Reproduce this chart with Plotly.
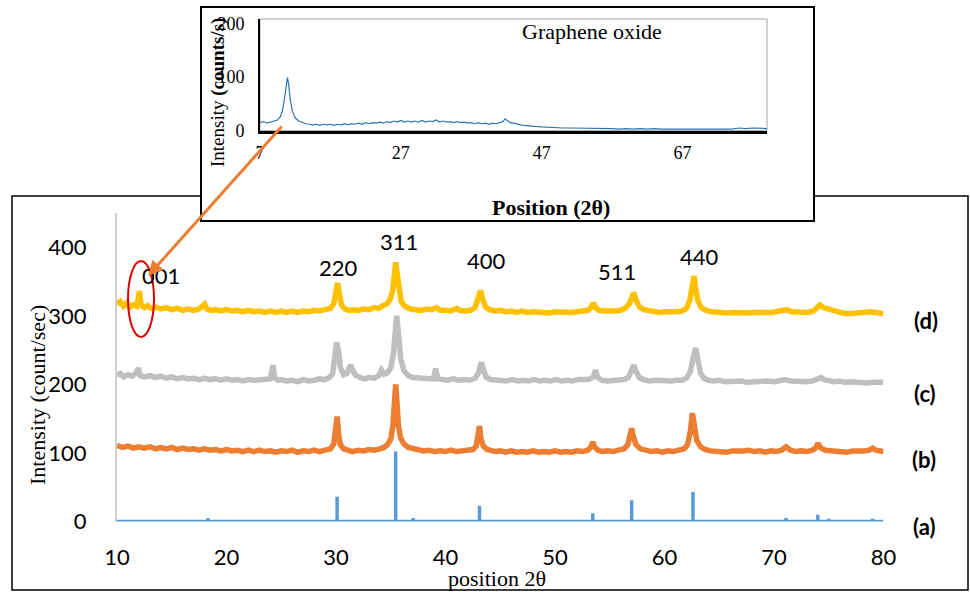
import plotly.graph_objects as go

# ---------------- data ----------------
# (a) reference stick pattern: 2-theta positions and intensities
STICK_POS = [18.3, 23.3, 30.1, 35.45, 37.05, 43.1, 47.1, 53.45, 57.0, 62.6,
             65.8, 66.9, 71.1, 74.0, 75.0, 79.0]
STICK_INT = [5, 1.5, 36, 102, 5, 23, 1.5, 12, 31, 43, 2, 1.5, 5, 10, 4, 4]

# (b) orange pattern  (2theta, intensity as plotted)
CURVE_B = [(10, 111), (10.5, 108), (11, 110), (11.5, 107), (12, 109), (12.5, 107), (13, 109), (13.5, 106),
           (14, 108), (14.5, 106), (15, 108), (15.5, 105), (16, 107), (16.5, 105), (17, 106), (17.5, 104),
           (18, 106), (18.5, 104), (19, 105), (19.5, 103), (20, 105), (20.5, 103), (21, 104), (21.5, 102),
           (22, 104), (22.5, 102), (23, 104), (23.5, 102), (24, 103), (24.5, 101), (25, 103), (25.5, 102),
           (26, 104), (26.5, 101), (27, 103), (27.5, 102), (28, 104), (28.5, 102), (29, 104), (29.5, 106),
           (29.8, 113), (29.95, 128), (30.1, 153), (30.25, 126), (30.4, 112), (30.7, 106), (31, 104),
           (31.5, 102), (32, 104), (32.5, 103), (33, 105), (33.5, 104), (34, 106), (34.4, 108), (34.7, 112),
           (35.0, 120), (35.2, 140), (35.35, 180), (35.45, 200), (35.55, 178), (35.7, 140), (35.9, 122),
           (36.2, 113), (36.6, 108), (37.0, 106), (37.5, 104), (38, 103), (38.5, 104), (39, 102), (39.5, 103),
           (40, 102), (40.5, 104), (41, 102), (41.5, 103), (42, 103), (42.5, 105), (42.8, 110), (42.95, 122),
           (43.1, 139), (43.25, 120), (43.45, 110), (43.8, 105), (44.2, 103), (44.6, 102), (45, 103),
           (45.5, 101), (46, 103), (46.5, 101), (47, 102), (47.5, 101), (48, 103), (48.5, 101), (49, 102),
           (49.5, 101), (50, 103), (50.5, 101), (51, 102), (51.5, 101), (52, 103), (52.5, 102), (53, 104),
           (53.3, 109), (53.45, 116), (53.6, 109), (53.9, 104), (54.3, 102), (54.8, 103), (55.3, 102),
           (55.8, 104), (56.3, 106), (56.65, 112), (56.85, 124), (57.0, 136), (57.15, 124), (57.4, 112),
           (57.8, 106), (58.3, 104), (58.8, 102), (59.3, 103), (59.8, 101), (60.3, 103), (60.8, 102),
           (61.3, 104), (61.8, 106), (62.1, 112), (62.35, 130), (62.55, 158), (62.75, 138), (62.95, 118),
           (63.3, 109), (63.7, 105), (64.2, 103), (64.7, 102), (65.2, 103), (65.7, 101), (66.2, 103),
           (66.7, 102), (67.2, 103), (67.7, 104), (68.2, 102), (68.7, 103), (69.2, 101), (69.7, 103),
           (70.2, 102), (70.7, 104), (71.1, 109), (71.5, 104), (72, 102), (72.5, 103), (73, 102), (73.5, 104),
           (73.8, 107), (74.0, 114), (74.3, 107), (74.7, 104), (75.2, 103), (75.7, 102), (76.2, 103),
           (76.7, 101), (77.2, 103), (77.7, 102), (78.2, 103), (78.7, 104), (79.0, 107), (79.3, 104),
           (79.7, 102), (80, 102)]

# (c) grey pattern
CURVE_C = [(10, 213), (10.3, 216), (10.6, 211), (11, 214), (11.4, 212), (11.8, 218), (11.95, 224), (12.1, 213),
           (12.5, 211), (13, 213), (13.5, 210), (14, 212), (14.5, 209), (15, 211), (15.5, 208), (16, 210),
           (16.5, 208), (17, 209), (17.5, 207), (18, 209), (18.5, 207), (19, 208), (19.5, 206), (20, 208),
           (20.5, 206), (21, 207), (21.5, 205), (22, 207), (22.5, 206), (23, 207), (23.5, 206), (24, 208),
           (24.15, 220), (24.25, 228), (24.4, 209), (24.7, 206), (25, 207), (25.5, 205), (26, 206), (26.5, 204),
           (27, 207), (27.5, 205), (28, 206), (28.5, 208), (29, 207), (29.4, 210), (29.7, 216), (29.9, 240),
           (30.05, 261), (30.2, 252), (30.4, 225), (30.7, 214), (31.0, 216), (31.2, 224), (31.35, 228),
           (31.55, 220), (31.8, 213), (32.2, 210), (32.6, 208), (33, 210), (33.5, 209), (33.9, 213),
           (34.15, 221), (34.4, 215), (34.7, 217), (35.0, 224), (35.25, 245), (35.45, 285), (35.55, 300),
           (35.7, 275), (35.9, 238), (36.2, 220), (36.6, 213), (37, 210), (37.5, 209), (38, 208), (38.5, 207),
           (38.9, 208), (39.1, 223), (39.3, 208), (39.7, 207), (40.2, 206), (40.7, 208), (41.2, 206),
           (41.7, 207), (42.2, 206), (42.7, 209), (43.0, 216), (43.2, 228), (43.3, 232), (43.45, 222),
           (43.7, 211), (44.1, 207), (44.6, 206), (45.1, 207), (45.6, 205), (46.1, 207), (46.6, 205),
           (47.1, 206), (47.6, 205), (48.1, 207), (48.6, 205), (49.1, 206), (49.6, 205), (50.1, 207),
           (50.6, 205), (51.1, 206), (51.6, 205), (52.1, 207), (52.6, 206), (53.1, 207), (53.5, 211),
           (53.7, 221), (53.9, 210), (54.3, 206), (54.8, 205), (55.3, 206), (55.8, 205), (56.3, 207),
           (56.7, 210), (57.0, 220), (57.2, 228), (57.4, 219), (57.7, 210), (58.1, 207), (58.6, 205),
           (59.1, 206), (59.6, 205), (60.1, 206), (60.6, 205), (61.1, 206), (61.6, 206), (62.0, 209),
           (62.35, 218), (62.6, 238), (62.85, 253), (63.05, 236), (63.3, 216), (63.6, 209), (64.0, 206),
           (64.5, 205), (65, 206), (65.5, 204), (66, 205), (66.5, 204), (67, 205), (67.5, 203), (68, 204),
           (68.5, 203), (69, 204), (69.5, 205), (70, 204), (70.5, 205), (71, 207), (71.5, 205), (72, 204),
           (72.5, 205), (73, 204), (73.5, 205), (74, 207), (74.3, 210), (74.6, 207), (75, 206), (75.5, 204),
           (76, 205), (76.5, 203), (77, 204), (77.5, 203), (78, 204), (78.5, 202), (79, 203), (79.5, 202),
           (80, 203)]

# (d) yellow pattern
CURVE_D = [(10, 317), (10.3, 321), (10.6, 314), (10.9, 319), (11.2, 313), (11.5, 316), (11.8, 314), (11.95, 330),
           (12.05, 336), (12.2, 316), (12.5, 312), (12.8, 315), (13.1, 311), (13.5, 313), (14, 310), (14.5, 312),
           (15, 309), (15.5, 311), (16, 308), (16.5, 310), (17, 308), (17.5, 310), (17.8, 314), (18.0, 317),
           (18.2, 310), (18.6, 308), (19, 309), (19.5, 307), (20, 309), (20.5, 307), (21, 308), (21.5, 306),
           (22, 308), (22.5, 306), (23, 307), (23.5, 305), (24, 307), (24.5, 305), (25, 307), (25.5, 305),
           (26, 307), (26.5, 305), (27, 307), (27.5, 306), (28, 308), (28.5, 307), (29, 309), (29.5, 311),
           (29.8, 318), (30.0, 332), (30.15, 348), (30.3, 332), (30.5, 316), (30.8, 310), (31.2, 308),
           (31.6, 309), (32, 308), (32.5, 310), (33, 309), (33.5, 312), (33.9, 311), (34.3, 315), (34.7, 318),
           (35.0, 326), (35.2, 340), (35.35, 362), (35.45, 378), (35.6, 360), (35.75, 336), (35.95, 321),
           (36.3, 314), (36.8, 310), (37.3, 309), (37.8, 308), (38.3, 310), (38.7, 309), (39.2, 312),
           (39.5, 308), (40, 308), (40.5, 307), (41, 311), (41.3, 308), (41.8, 307), (42.3, 308), (42.7, 312),
           (42.95, 322), (43.2, 337), (43.4, 324), (43.65, 313), (44, 309), (44.5, 307), (45, 308), (45.5, 306),
           (46, 307), (46.5, 305), (47, 307), (47.5, 305), (48, 306), (48.5, 305), (49, 306), (49.5, 304),
           (50, 306), (50.5, 305), (51, 306), (51.5, 305), (52, 306), (52.5, 306), (53, 308), (53.3, 312),
           (53.5, 319), (53.7, 312), (54.0, 308), (54.5, 307), (55, 306), (55.5, 307), (56, 308), (56.4, 311),
           (56.8, 318), (57.05, 330), (57.2, 334), (57.4, 323), (57.7, 313), (58.1, 309), (58.6, 307),
           (59.1, 306), (59.6, 305), (60.1, 306), (60.6, 305), (61.1, 306), (61.6, 307), (62.0, 311),
           (62.3, 322), (62.55, 345), (62.7, 358), (62.85, 340), (63.05, 322), (63.35, 312), (63.8, 308),
           (64.3, 306), (64.8, 305), (65.3, 306), (65.8, 304), (66.3, 305), (66.8, 304), (67.3, 305),
           (67.8, 304), (68.3, 305), (68.8, 304), (69.3, 305), (69.8, 305), (70.3, 306), (70.8, 308),
           (71.2, 309), (71.6, 306), (72.1, 305), (72.6, 304), (73.1, 305), (73.6, 307), (74.0, 312),
           (74.2, 316), (74.5, 312), (74.9, 310), (75.3, 307), (75.8, 305), (76.3, 304), (76.8, 303),
           (77.3, 304), (77.8, 303), (78.3, 305), (78.8, 306), (79.3, 305), (79.7, 304), (80, 303)]

# inset: graphene oxide pattern
CURVE_GO = [(7, 15), (7.5, 17), (8, 14), (8.5, 16), (9, 18), (9.5, 20), (9.9, 26), (10.2, 38), (10.5, 62),
            (10.75, 90), (10.9, 99), (11.05, 88), (11.3, 58), (11.6, 36), (12, 24), (12.5, 18), (13, 15),
            (13.5, 13), (14, 12), (14.5, 11), (15, 12), (15.5, 10), (16, 12), (16.5, 11), (17, 12), (17.5, 10),
            (18, 12), (18.5, 11), (19, 13), (19.5, 11), (20, 13), (20.5, 12), (21, 14), (21.5, 12), (22, 15),
            (22.5, 13), (23, 15), (23.5, 14), (24, 16), (24.5, 14), (25, 17), (25.5, 15), (26, 18), (26.5, 16),
            (27, 19), (27.5, 16), (28, 18), (28.5, 16), (29, 18), (29.5, 16), (30, 19), (30.5, 16), (31, 18),
            (31.5, 17), (32, 20), (32.5, 16), (33, 18), (33.5, 16), (34, 17), (34.5, 15), (35, 17), (35.5, 15),
            (36, 16), (36.5, 14), (37, 15), (37.5, 13), (38, 15), (38.5, 13), (39, 14), (39.5, 12), (40, 14),
            (40.5, 13), (41, 15), (41.5, 17), (41.8, 22), (42.1, 19), (42.5, 15), (43, 14), (43.5, 12),
            (44, 11), (44.5, 10), (45, 9), (45.5, 8), (46, 8), (47, 7), (48, 6), (49, 6), (50, 5), (51, 5),
            (52, 5), (53, 4), (54, 5), (55, 4), (56, 4), (57, 4), (58, 3), (59, 4), (60, 3), (61, 4), (62, 3),
            (63, 4), (64, 3), (65, 3), (66, 4), (67, 3), (68, 4), (69, 3), (70, 3), (71, 4), (72, 3), (73, 4),
            (74, 3), (75, 5), (76, 4), (77, 5), (78, 4), (79, 4)]

X_TICKS = [10, 20, 30, 40, 50, 60, 70, 80]
Y_TICKS = [0, 100, 200, 300, 400]
INSET_X_TICKS = [7, 27, 47, 67]
INSET_Y_TICKS = [0, 100, 200]

PEAK_LABELS = ["001", "220", "311", "400", "511", "440"]
PEAK_LABEL_X = [14.06, 30.25, 35.73, 43.70, 55.63, 63.21]
PEAK_LABEL_Y = [358.5, 371.2, 408.1, 380.4, 364.4, 386.3]
SERIES_LABELS = ["(d)", "(c)", "(b)", "(a)"]

# ---------------- figure ----------------
W, H = 970, 592
def px(x):
    return x / W
def py(y):
    return 1 - y / H

SANS = "Lato"
SERIF = "Liberation Serif"

# build stick trace for (a)
a_x, a_y = [10], [0]
for p, h in zip(STICK_POS, STICK_INT):
    a_x += [p, p, p]
    a_y += [0, h, 0]
a_x.append(80)
a_y.append(0)

fig = go.Figure()
fig.add_trace(go.Scatter(x=a_x, y=a_y, mode="lines", line=dict(color="#5B9BD5", width=3.5),
                         xaxis="x", yaxis="y", showlegend=False))
for data, col in [(CURVE_B, "#ED7D31"), (CURVE_C, "#BFBFBF"), (CURVE_D, "#FFC000")]:
    xs = [d[0] for d in data]
    ys = [d[1] for d in data]
    fig.add_trace(go.Scatter(x=xs, y=ys, mode="lines", line=dict(color=col, width=5.5),
                             xaxis="x", yaxis="y", showlegend=False))

fig.add_trace(go.Scatter(x=[d[0] for d in CURVE_GO], y=[d[1] for d in CURVE_GO], mode="lines",
                         line=dict(color="#2E75B6", width=1.2), xaxis="x2", yaxis="y2",
                         showlegend=False))

shapes = [
    dict(type="rect", xref="paper", yref="paper", x0=px(12), x1=px(968), y0=py(590), y1=py(196),
         line=dict(color="black", width=1.5), fillcolor="white", layer="below"),
    dict(type="rect", xref="paper", yref="paper", x0=px(201), x1=px(814), y0=py(221), y1=py(7),
         line=dict(color="black", width=2), fillcolor="white", layer="below"),
    dict(type="rect", xref="paper", yref="paper", x0=px(260), x1=px(767), y0=py(130.7), y1=py(19),
         line=dict(color="#A6A6A6", width=1), layer="below"),
    dict(type="circle", xref="paper", yref="paper", x0=px(128), x1=px(154), y0=py(337), y1=py(261),
         line=dict(color="#E00000", width=2), layer="above"),
]

annotations = []
for t, x, y in zip(PEAK_LABELS, PEAK_LABEL_X, PEAK_LABEL_Y):
    annotations.append(dict(text=t, x=x, y=y, xref="x", yref="y", showarrow=False,
                            font=dict(family=SANS, size=22, color="black"),
                            xanchor="center", yanchor="middle"))
for t, (x, y) in zip(SERIES_LABELS, [(925.5, 320), (925, 393), (923.7, 460), (923.7, 526.7)]):
    annotations.append(dict(text="<b>" + t + "</b>", x=px(x), y=py(y), xref="paper", yref="paper",
                            showarrow=False, font=dict(family=SANS, size=22, color="black"),
                            xanchor="center", yanchor="middle"))
annotations += [
    dict(text="Intensity (count/sec)", x=px(37), y=py(395), xref="paper", yref="paper", textangle=-90,
         showarrow=False, font=dict(family=SERIF, size=22, color="black"), xanchor="center", yanchor="middle"),
    dict(text="position 2θ", x=px(497), y=py(578), xref="paper", yref="paper",
         showarrow=False, font=dict(family=SERIF, size=22, color="black"), xanchor="center", yanchor="middle"),
    dict(text="Graphene oxide", x=px(592), y=py(31), xref="paper", yref="paper",
         showarrow=False, font=dict(family=SERIF, size=22, color="black"), xanchor="center", yanchor="middle"),
    dict(text="<b>Position (2θ)</b>", x=px(551), y=py(207), xref="paper", yref="paper",
         showarrow=False, font=dict(family=SERIF, size=22, color="black"), xanchor="center", yanchor="middle"),
    dict(text="Intensity <b>(counts/s)</b>", x=px(218), y=py(93), xref="paper", yref="paper", textangle=-90,
         showarrow=False, font=dict(family=SERIF, size=19, color="black"), xanchor="center", yanchor="middle"),
    dict(text="", x=px(148), y=py(276), xref="paper", yref="paper", showarrow=True,
         ax=283 - 148, ay=125 - 276, arrowhead=2, arrowsize=1, arrowwidth=3, arrowcolor="#ED7D31",
         standoff=0),
]

fig.update_layout(
    width=W, height=H, margin=dict(l=0, r=0, t=0, b=0, autoexpand=False),
    paper_bgcolor="white", plot_bgcolor="rgba(0,0,0,0)",
    shapes=shapes, annotations=annotations, showlegend=False,
    xaxis=dict(domain=[px(117), px(883.5)], range=[10, 80], tickvals=X_TICKS, showgrid=False,
               zeroline=False, showline=False, ticks="", ticklabelstandoff=20, automargin=False,
               tickfont=dict(family=SANS, size=22, color="black"), anchor="y"),
    yaxis=dict(domain=[py(521.5), py(213)], range=[0, 450], tickvals=Y_TICKS, showgrid=False,
               zeroline=False, showline=True, linecolor="#D0D0D0", linewidth=2, ticks="",
               ticklabelstandoff=24, automargin=False,
               tickfont=dict(family=SANS, size=22, color="black"), anchor="x"),
    xaxis2=dict(domain=[px(260), px(767)], range=[7, 79], tickvals=INSET_X_TICKS, showgrid=False,
                zeroline=False, showline=True, linecolor="black", linewidth=3, ticks="",
                ticklabelstandoff=4, automargin=False,
                tickfont=dict(family=SERIF, size=18, color="black"), anchor="y2"),
    yaxis2=dict(domain=[py(130.7), py(19)], range=[0, 208], tickvals=INSET_Y_TICKS, showgrid=False,
                zeroline=False, showline=True, linecolor="black", linewidth=2, ticks="",
                ticklabelstandoff=10, automargin=False,
                tickfont=dict(family=SERIF, size=18, color="black"), anchor="x2"),
)

fig.write_html("out.html", config={"displayModeBar": False},
               post_script="document.body.style.margin='0';document.body.style.overflow='hidden';")
